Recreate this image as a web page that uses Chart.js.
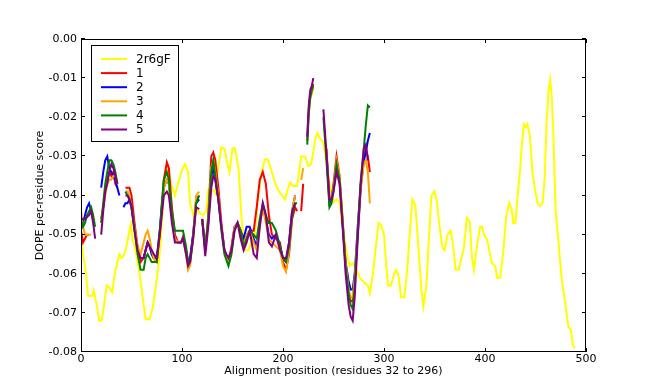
<!DOCTYPE html>
<html>
<head>
<meta charset="utf-8">
<script src="https://cdn.jsdelivr.net/npm/chart.js@4/dist/chart.umd.min.js"></script>
<style>
  html, body { margin: 0; padding: 0; background: #fff; }
  #wrap { width: 650px; height: 390px; }
</style>
</head>
<body>
<div id="wrap"><canvas id="c" width="650" height="390"></canvas></div>
<script>
// ---------------- DATA ----------------
const seriesLabels = ['2r6gF', '1', '2', '3', '4', '5'];
const xTickValues = [0, 100, 200, 300, 400, 500];
const yTickValues = [0, -0.01, -0.02, -0.03, -0.04, -0.05, -0.06, -0.07, -0.08];

// template structure (2r6gF)
const templateX = [0,2,5,7,11.5,12.5,14,16,18,20.5,23,25.5,28,31,33,36,38,40,42,44.5,48,49.5,51,54,58,61,64,68,71,74,76.5,79,81,83,86,89,93,97,100,103,106,108,111,114,118,121,124,126,131,133,134.5,137,139,142,145,147,150,152,154,156,159,162,166,169,172,175,179,182,185,189,192,195,199,202,204,207,210,214,218,222,225,228,232,234,237,240,243,246,250,253,256,259,263,266,269,273,276,281,284,286,289,292,294.5,297,300,302,304,307,310,312,314,317,320,323,326,328,331,334,337,339,342,344,347,350,352,355,358,360,363,366,368,371,374,377,379,382,385,387,389,392,395,397,399,402,404,407,410,412,415,418,421,424,426.5,428,430,432,435,436.5,438.5,440.5,442,444.5,447,449.5,452,454.5,457,459,461,463,464.5,466,467.5,470,472.5,476,479,482.5,485,487,489];
const templateY = [-0.050,-0.055,-0.060,-0.0656,-0.0656,-0.0643,-0.066,-0.0686,-0.072,-0.072,-0.0678,-0.063,-0.0635,-0.0648,-0.0605,-0.057,-0.055,-0.056,-0.0555,-0.0537,-0.049,-0.0473,-0.051,-0.054,-0.060,-0.066,-0.0716,-0.0716,-0.0686,-0.0633,-0.0584,-0.0515,-0.043,-0.035,-0.0325,-0.037,-0.040,-0.036,-0.0335,-0.032,-0.034,-0.042,-0.0447,-0.043,-0.0447,-0.045,-0.044,-0.0385,-0.0387,-0.0395,-0.0353,-0.031,-0.0276,-0.028,-0.032,-0.034,-0.028,-0.0278,-0.030,-0.0333,-0.046,-0.054,-0.054,-0.0513,-0.0504,-0.041,-0.034,-0.0308,-0.0308,-0.034,-0.0367,-0.0385,-0.040,-0.041,-0.039,-0.0367,-0.0376,-0.0376,-0.030,-0.030,-0.0325,-0.032,-0.0256,-0.024,-0.0256,-0.0265,-0.0316,-0.0368,-0.0418,-0.041,-0.0418,-0.048,-0.0546,-0.058,-0.0573,-0.059,-0.061,-0.0624,-0.063,-0.065,-0.060,-0.053,-0.047,-0.0475,-0.050,-0.057,-0.063,-0.063,-0.060,-0.059,-0.060,-0.066,-0.066,-0.059,-0.048,-0.041,-0.0425,-0.053,-0.064,-0.0684,-0.063,-0.053,-0.040,-0.0389,-0.041,-0.048,-0.0534,-0.054,-0.050,-0.049,-0.052,-0.059,-0.059,-0.0556,-0.0536,-0.0457,-0.0468,-0.0556,-0.059,-0.053,-0.048,-0.048,-0.050,-0.0513,-0.0538,-0.0573,-0.058,-0.061,-0.061,-0.0547,-0.0453,-0.0419,-0.0436,-0.047,-0.047,-0.041,-0.0325,-0.027,-0.0218,-0.0226,-0.0218,-0.0248,-0.0342,-0.0385,-0.042,-0.0427,-0.042,-0.0359,-0.0214,-0.0128,-0.0103,-0.0145,-0.023,-0.0444,-0.0513,-0.0615,-0.0667,-0.0735,-0.0744,-0.0782,-0.079];

// model positions (null values = no model coverage)
const modelX = [0,2,4,6,8,10,12,14, 17, 20,22,24,26,28,30,32,34,36,38, 40,
  42,44,46,48,50,53,56,59,62,64,66,68,70,72,75,78,80,82,85,87,90,93,96,99,101,104,106,108,111,114,117, 118.5,
  120,123,126,129,131,133,136,139,142,146,149,152,155,158,161,164,167,171,174,177,180,183,186,189,193,197,200,203,206,209,212,214, 216,
  218,220, 222, 224,225.5,227,228.5,230, 235,
  240,243,246,248,250,253,256,259,262,265,267,269,271,274,277,280,282,284,286];

const model1 = [-0.049,-0.052,-0.051,-0.050,-0.050,null,null,null, null,
  -0.046,-0.043,-0.039,-0.036,-0.034,-0.035,-0.034,-0.037,-0.038,null, null,
  null,-0.038,-0.038,-0.038,-0.040,-0.047,-0.053,-0.057,-0.056,-0.054,-0.052,-0.053,-0.055,-0.056,-0.057,-0.050,-0.043,-0.036,-0.0315,-0.033,-0.043,-0.050,-0.052,-0.052,-0.0505,-0.054,-0.057,-0.056,-0.050,-0.041,-0.040, null,
  -0.046,-0.054,-0.045,-0.030,-0.029,-0.031,-0.038,-0.047,-0.054,-0.057,-0.053,-0.048,-0.047,-0.049,-0.053,-0.050,-0.049,-0.049,-0.043,-0.036,-0.034,-0.037,-0.045,-0.050,-0.051,-0.052,-0.057,-0.059,-0.055,-0.046,-0.043,-0.044, null,
  -0.044,-0.037, null, -0.026,-0.018,-0.014,-0.013,-0.0115, null,
  null,-0.028,-0.041,-0.041,-0.037,-0.030,-0.035,-0.046,-0.058,-0.065,-0.067,-0.067,-0.062,-0.050,-0.038,-0.031,-0.028,-0.030,-0.034];

const model2 = [-0.046,-0.047,-0.045,-0.043,-0.042,-0.044,-0.045,null, null,
  -0.038,-0.034,-0.031,-0.030,-0.033,-0.034,-0.035,-0.036,-0.038,-0.040, null,
  -0.043,-0.042,-0.042,-0.041,-0.043,-0.048,-0.054,-0.056,-0.056,-0.054,-0.052,-0.053,-0.055,-0.056,-0.056,-0.049,-0.043,-0.038,-0.036,-0.037,-0.045,-0.051,-0.052,-0.052,-0.051,-0.054,-0.057,-0.056,-0.050,-0.042,-0.041, null,
  -0.046,-0.053,-0.047,-0.035,-0.033,-0.036,-0.041,-0.048,-0.054,-0.057,-0.054,-0.048,-0.047,-0.049,-0.051,-0.048,-0.048,-0.051,-0.053,-0.047,-0.043,-0.046,-0.050,-0.051,-0.050,-0.053,-0.056,-0.057,-0.052,-0.044,-0.040,null, null,
  null,null, null, null,null,null,null,null, null,
  null,-0.029,-0.042,-0.041,-0.038,-0.032,-0.036,-0.047,-0.057,-0.062,-0.064,-0.064,-0.060,-0.048,-0.037,-0.031,-0.029,-0.026,-0.024];

const model3 = [-0.044,-0.048,-0.050,-0.050,-0.050,-0.050,null,null, null,
  -0.047,-0.043,-0.040,-0.037,-0.036,-0.036,-0.035,-0.035,-0.037,null, null,
  null,-0.039,-0.039,-0.040,-0.043,-0.048,-0.053,-0.055,-0.052,-0.050,-0.049,-0.051,-0.054,-0.056,-0.057,-0.050,-0.044,-0.038,-0.036,-0.037,-0.046,-0.051,-0.052,-0.052,-0.051,-0.055,-0.059,-0.058,-0.051,-0.040,-0.039, null,
  -0.046,-0.054,-0.046,-0.033,-0.031,-0.034,-0.040,-0.048,-0.054,-0.057,-0.054,-0.048,-0.047,-0.049,-0.053,-0.050,-0.049,-0.052,-0.054,-0.048,-0.043,-0.047,-0.051,-0.052,-0.053,-0.054,-0.058,-0.0595,-0.054,-0.044,-0.040,null, null,
  -0.036,-0.033, null, null,-0.019,-0.015,-0.014,-0.0125, null,
  null,-0.029,-0.041,-0.041,-0.038,-0.031,-0.035,-0.046,-0.057,-0.064,-0.066,-0.066,-0.061,-0.049,-0.038,-0.032,-0.031,-0.034,-0.042];

const model4 = [-0.046,-0.048,-0.047,-0.045,-0.044,-0.043,-0.045,-0.048, null,
  -0.047,-0.042,-0.037,-0.034,-0.031,-0.031,-0.032,-0.034,-0.037,null, null,
  null,-0.039,-0.040,-0.041,-0.043,-0.049,-0.055,-0.059,-0.059,-0.056,-0.055,-0.056,-0.057,-0.057,-0.057,-0.049,-0.042,-0.036,-0.034,-0.036,-0.044,-0.049,-0.049,-0.049,-0.049,-0.053,-0.057,-0.057,-0.051,-0.042,-0.040, null,
  -0.046,-0.054,-0.046,-0.034,-0.031,-0.035,-0.041,-0.049,-0.055,-0.058,-0.055,-0.049,-0.047,-0.049,-0.053,-0.051,-0.049,-0.050,-0.051,-0.046,-0.042,-0.045,-0.047,-0.047,-0.049,-0.053,-0.056,-0.057,-0.053,-0.045,-0.042,-0.042, null,
  null,null, null, -0.027,-0.019,-0.015,-0.013,-0.012, null,
  -0.020,-0.031,-0.043,-0.042,-0.039,-0.032,-0.036,-0.047,-0.058,-0.065,-0.068,-0.069,-0.063,-0.049,-0.036,-0.028,-0.022,-0.017,-0.0175];

const model5 = [-0.046,-0.046,-0.046,-0.0455,-0.045,-0.044,-0.047,-0.051, null,
  -0.050,-0.044,-0.039,-0.037,-0.034,-0.032,-0.033,-0.035,-0.037,null, null,
  null,-0.040,-0.040,-0.041,-0.043,-0.049,-0.054,-0.056,-0.056,-0.054,-0.052,-0.053,-0.054,-0.055,-0.056,-0.050,-0.045,-0.040,-0.039,-0.040,-0.047,-0.052,-0.052,-0.052,-0.051,-0.055,-0.058,-0.057,-0.051,-0.043,-0.0435, null,
  -0.046,-0.0555,-0.048,-0.038,-0.035,-0.036,-0.041,-0.048,-0.054,-0.056,-0.054,-0.049,-0.047,-0.051,-0.054,-0.052,-0.049,-0.055,-0.056,-0.048,-0.042,-0.045,-0.052,-0.053,-0.050,-0.054,-0.056,-0.056,-0.052,-0.044,-0.042,null, null,
  null,null, null, -0.025,-0.017,-0.013,-0.012,-0.010, null,
  -0.018,-0.029,-0.041,-0.041,-0.039,-0.034,-0.037,-0.048,-0.060,-0.068,-0.071,-0.072,-0.066,-0.051,-0.037,-0.028,-0.027,-0.031,null];

const seriesColors = ['#ffff00', '#ff0000', '#0000ff', '#ffa500', '#008000', '#800080'];

// ---------------- CHART ----------------
function pts(xs, ys) { return xs.map((x, i) => ({ x: x, y: ys[i] })); }
const modelSets = [model1, model2, model3, model4, model5];

const datasets = [
  { label: seriesLabels[0], data: pts(templateX, templateY), borderColor: seriesColors[0], order: 5 }
].concat(modelSets.map((m, k) => ({
  label: seriesLabels[k + 1], data: pts(modelX, m), borderColor: seriesColors[k + 1], order: 4 - k
})));
datasets.forEach(d => { d.borderWidth = 2; d.pointRadius = 0; d.tension = 0; d.spanGaps = false; d.fill = false; });

Chart.defaults.font.family = '"DejaVu Sans", sans-serif';
Chart.defaults.font.size = 11;
Chart.defaults.color = '#000';

const decor = {
  id: 'decor',
  afterDatasetsDraw(chart) {
    const { ctx, chartArea: a, scales } = chart;
    const xs = scales.x, ys = scales.y;
    ctx.save();
    ctx.strokeStyle = '#000';
    ctx.lineWidth = 1;
    ctx.beginPath();
    xTickValues.forEach(v => {
      const p = Math.round(xs.getPixelForValue(v)) + 0.5;
      ctx.moveTo(p, a.bottom); ctx.lineTo(p, a.bottom - 4);
      ctx.moveTo(p, a.top); ctx.lineTo(p, a.top + 4);
    });
    yTickValues.forEach(v => {
      const p = Math.round(ys.getPixelForValue(v)) - 0.5;
      ctx.moveTo(a.left, p); ctx.lineTo(a.left + 4, p);
      ctx.moveTo(a.right, p); ctx.lineTo(a.right - 4, p);
    });
    ctx.stroke();
    ctx.strokeRect(a.left + 0.5, a.top + 0.5, a.right - a.left - 1, a.bottom - a.top - 1);

    // legend
    const bx = 91.5, by = 45.5, bw = 87, bh = 96;
    ctx.fillStyle = '#fff';
    ctx.fillRect(bx, by, bw, bh);
    ctx.strokeRect(bx, by, bw, bh);
    ctx.font = '12px "DejaVu Sans", sans-serif';
    ctx.textBaseline = 'middle';
    ctx.textAlign = 'left';
    chart.data.datasets.forEach((d, i) => {
      const yy = 59 + i * 14.1;
      ctx.strokeStyle = d.borderColor;
      ctx.lineWidth = 2;
      ctx.beginPath();
      ctx.moveTo(101, yy); ctx.lineTo(127, yy);
      ctx.stroke();
      ctx.fillStyle = '#000';
      ctx.fillText(d.label, 136, yy + 0.5);
    });
    ctx.restore();
  }
};

new Chart(document.getElementById('c'), {
  type: 'line',
  data: { datasets: datasets },
  plugins: [decor],
  options: {
    responsive: false,
    animation: false,
    devicePixelRatio: 1,
    layout: { padding: { top: 39, right: 64, left: 0, bottom: 0 } },
    plugins: { legend: { display: false }, tooltip: { enabled: false } },
    scales: {
      x: {
        type: 'linear', min: 0, max: 500,
        afterFit(s) { s.height = 38; },
        afterBuildTicks(s) { s.ticks = xTickValues.map(v => ({ value: v })); },
        grid: { display: false, drawTicks: false },
        border: { display: false },
        ticks: { padding: 1, maxRotation: 0, autoSkip: false, callback: v => String(v) },
        title: { display: true, text: 'Alignment position (residues 32 to 296)', padding: { top: 0, bottom: 12.4 } }
      },
      y: {
        type: 'linear', min: -0.08, max: 0,
        afterFit(s) { s.width = 81; },
        afterBuildTicks(s) { s.ticks = yTickValues.map(v => ({ value: v })); },
        grid: { display: false, drawTicks: false },
        border: { display: false },
        ticks: { padding: 4, autoSkip: false, callback: v => Number(v).toFixed(2) },
        title: { display: true, text: 'DOPE per-residue score', padding: { top: 33.4, bottom: 0 } }
      }
    }
  }
});
</script>
</body>
</html>
